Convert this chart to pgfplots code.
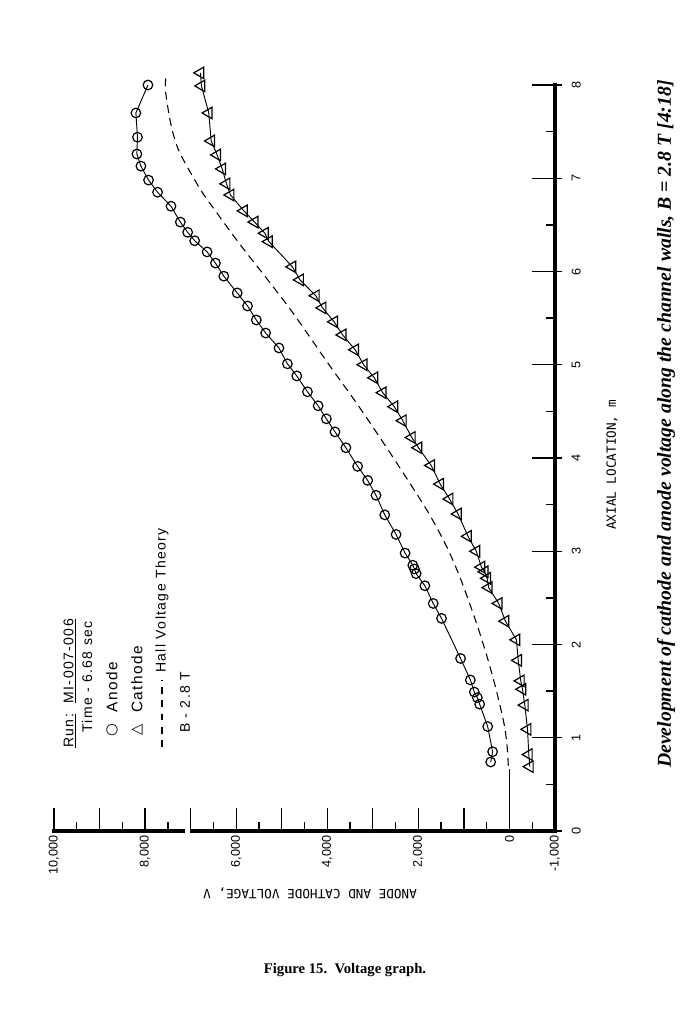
\documentclass[border=0pt]{standalone}
\usepackage{fontspec}
\setmainfont{Liberation Serif}
\usepackage{pgfplots}
\pgfplotsset{compat=1.18}
\newfontfamily\tickf{Liberation Sans}
\newfontfamily\monof{DejaVu Sans Mono}
\newfontfamily\symf{DejaVu Sans}
\newfontfamily\legf[LetterSpace=10]{Liberation Sans}

\pgfplotstableread{
V L
412 0.74
370 0.85
478 1.12
654 1.36
705 1.43
771 1.49
859 1.62
1073 1.85
1491 2.28
1674 2.44
1857 2.63
2049 2.76
2086 2.81
2122 2.85
2291 2.98
2489 3.18
2738 3.39
2930 3.60
3113 3.76
3333 3.91
3591 4.11
3830 4.28
4020 4.42
4201 4.56
4435 4.71
4670 4.88
4875 5.01
5060 5.18
5353 5.34
5558 5.48
5750 5.63
5977 5.77
6272 5.95
6455 6.09
6638 6.21
6911 6.33
7065 6.42
7226 6.53
7431 6.70
7726 6.85
7924 6.98
8092 7.13
8180 7.26
8167 7.44
8202 7.70
7937 8.00
}\anode

\pgfplotstableread{
V L
-447 0.69
-425 0.82
-397 1.09
-337 1.35
-286 1.52
-249 1.61
-192 1.83
-154 2.05
88 2.25
236 2.44
456 2.61
491 2.71
544 2.78
617 2.83
727 3.00
910 3.16
1130 3.40
1315 3.56
1520 3.72
1718 3.92
1998 4.11
2144 4.22
2342 4.40
2527 4.55
2782 4.70
2967 4.86
3201 5.00
3386 5.16
3664 5.32
3849 5.46
4104 5.61
4252 5.74
4598 5.91
4765 6.05
5281 6.32
5369 6.41
5596 6.53
5831 6.65
6124 6.82
6212 6.94
6307 7.10
6417 7.25
6549 7.40
6602 7.70
6763 7.99
6785 8.13
}\cathode

\pgfplotstableread{
V L
25 0.70
50 0.90
100 1.10
185 1.30
310 1.55
480 1.85
670 2.15
860 2.42
1110 2.75
1390 3.06
1800 3.43
2480 3.95
3260 4.52
3990 5.02
4760 5.56
5450 6.00
5790 6.21
6130 6.43
6500 6.68
6760 6.86
7060 7.11
7280 7.32
7430 7.57
7550 7.93
7540 8.12
}\hall

\begin{document}
\begin{tikzpicture}
\path[use as bounding box] (0,0) rectangle (516.75pt,768pt);
\begin{axis}[
 at={(40.5pt,144.75pt)}, anchor=south west,
 scale only axis, width=375.75pt, height=559.5pt,
 xmin=-1000, xmax=10000, ymin=0, ymax=8, x dir=reverse,
 axis x line*=bottom, axis y line*=right,
 axis line style={line width=3pt, line cap=rect},
 clip=false, scaled x ticks=false,
 xtick={-1000,0,...,10000}, minor x tick num=1,
 xticklabels={{-1,000},{0},{},{2,000},{},{4,000},{},{6,000},{},{8,000},{},{10,000}},
 ytick={0,...,8}, minor y tick num=1,
 yticklabels={0,1,2,3,4,5,6,7,8},
 tick align=inside,
 major tick length=17pt, minor tick length=7pt,
 every tick/.style={black, line width=1pt},
 xticklabel style={rotate=90, anchor=east, font=\tickf\fontsize{9.5}{11}\selectfont},
 yticklabel style={rotate=90, anchor=north, yshift=-9pt, font=\tickf\fontsize{9.5}{11}\selectfont},
]
\addplot[black, line width=0.6pt] coordinates {(0,0) (0,0.66)};
\addplot[black, line width=0.8pt, dash pattern=on 6pt off 4pt, smooth] table[x=V,y=L] {\hall};
\addplot[black, line width=0.7pt, mark=o, mark size=3.6pt, mark options={solid, line width=0.9pt, fill=white}] table[x=V,y=L] {\anode};
\addplot[black, line width=0.7pt, mark=triangle, mark size=5pt, mark options={solid, line width=0.9pt, fill=white, rotate=90}] table[x=V,y=L] {\cathode};
\end{axis}
\begin{scope}[x=0.75pt, y=-0.75pt, shift={(0pt,768pt)}]
\fill[white] (184.5,822) rectangle (190,840);
\foreach \k in {0,...,8} {\draw[line width=1pt] (556,{831-93.25*\k}) -- (562,{831-93.25*\k});}
\node[rotate=180, font=\monof\fontsize{9.5}{11}\selectfont] at (310,893) {ANODE AND CATHODE VOLTAGE, V};
\node[rotate=90, font=\monof\fontsize{9.5}{11}\selectfont] at (612,465) {AXIAL LOCATION, m};
\node[rotate=90, font=\bfseries\itshape\fontsize{14.8}{16}\selectfont] at (666,424) {Development of cathode and anode voltage along the channel walls, B = 2.8 T [4:18]};
\node[font=\bfseries\fontsize{11}{13}\selectfont] at (345,970) {Figure 15.\ \ Voltage graph.};
\node[rotate=90, anchor=west, inner sep=0pt, font=\legf\fontsize{10.5}{12}\selectfont] at (70,748) {\underline{Run:}\ \ \underline{MI-007-006}};
\node[rotate=90, anchor=west, inner sep=0pt, font=\legf\fontsize{10.5}{12}\selectfont] at (87,733) {Time - 6.68 sec};
\node[rotate=90, inner sep=0pt, font=\symf\fontsize{11}{12}\selectfont] at (112,730) {○};
\node[rotate=90, anchor=west, inner sep=0pt, font=\legf\fontsize{11.5}{12}\selectfont] at (112,713) {Anode};
\node[rotate=90, inner sep=0pt, font=\symf\fontsize{11}{12}\selectfont] at (137,730) {△};
\node[rotate=90, anchor=west, inner sep=0pt, font=\legf\fontsize{11.5}{12}\selectfont] at (137,713) {Cathode};
\draw[line width=0.8pt, dash pattern=on 5pt off 5pt] (162,747) -- (162,680);
\node[rotate=90, anchor=west, inner sep=0pt, font=\legf\fontsize{10.5}{12}\selectfont] at (162,673) {Hall Voltage Theory};
\node[rotate=90, anchor=west, inner sep=0pt, font=\legf\fontsize{10.5}{12}\selectfont] at (185,733) {B - 2.8 T};
\end{scope}
\end{tikzpicture}
\end{document}
